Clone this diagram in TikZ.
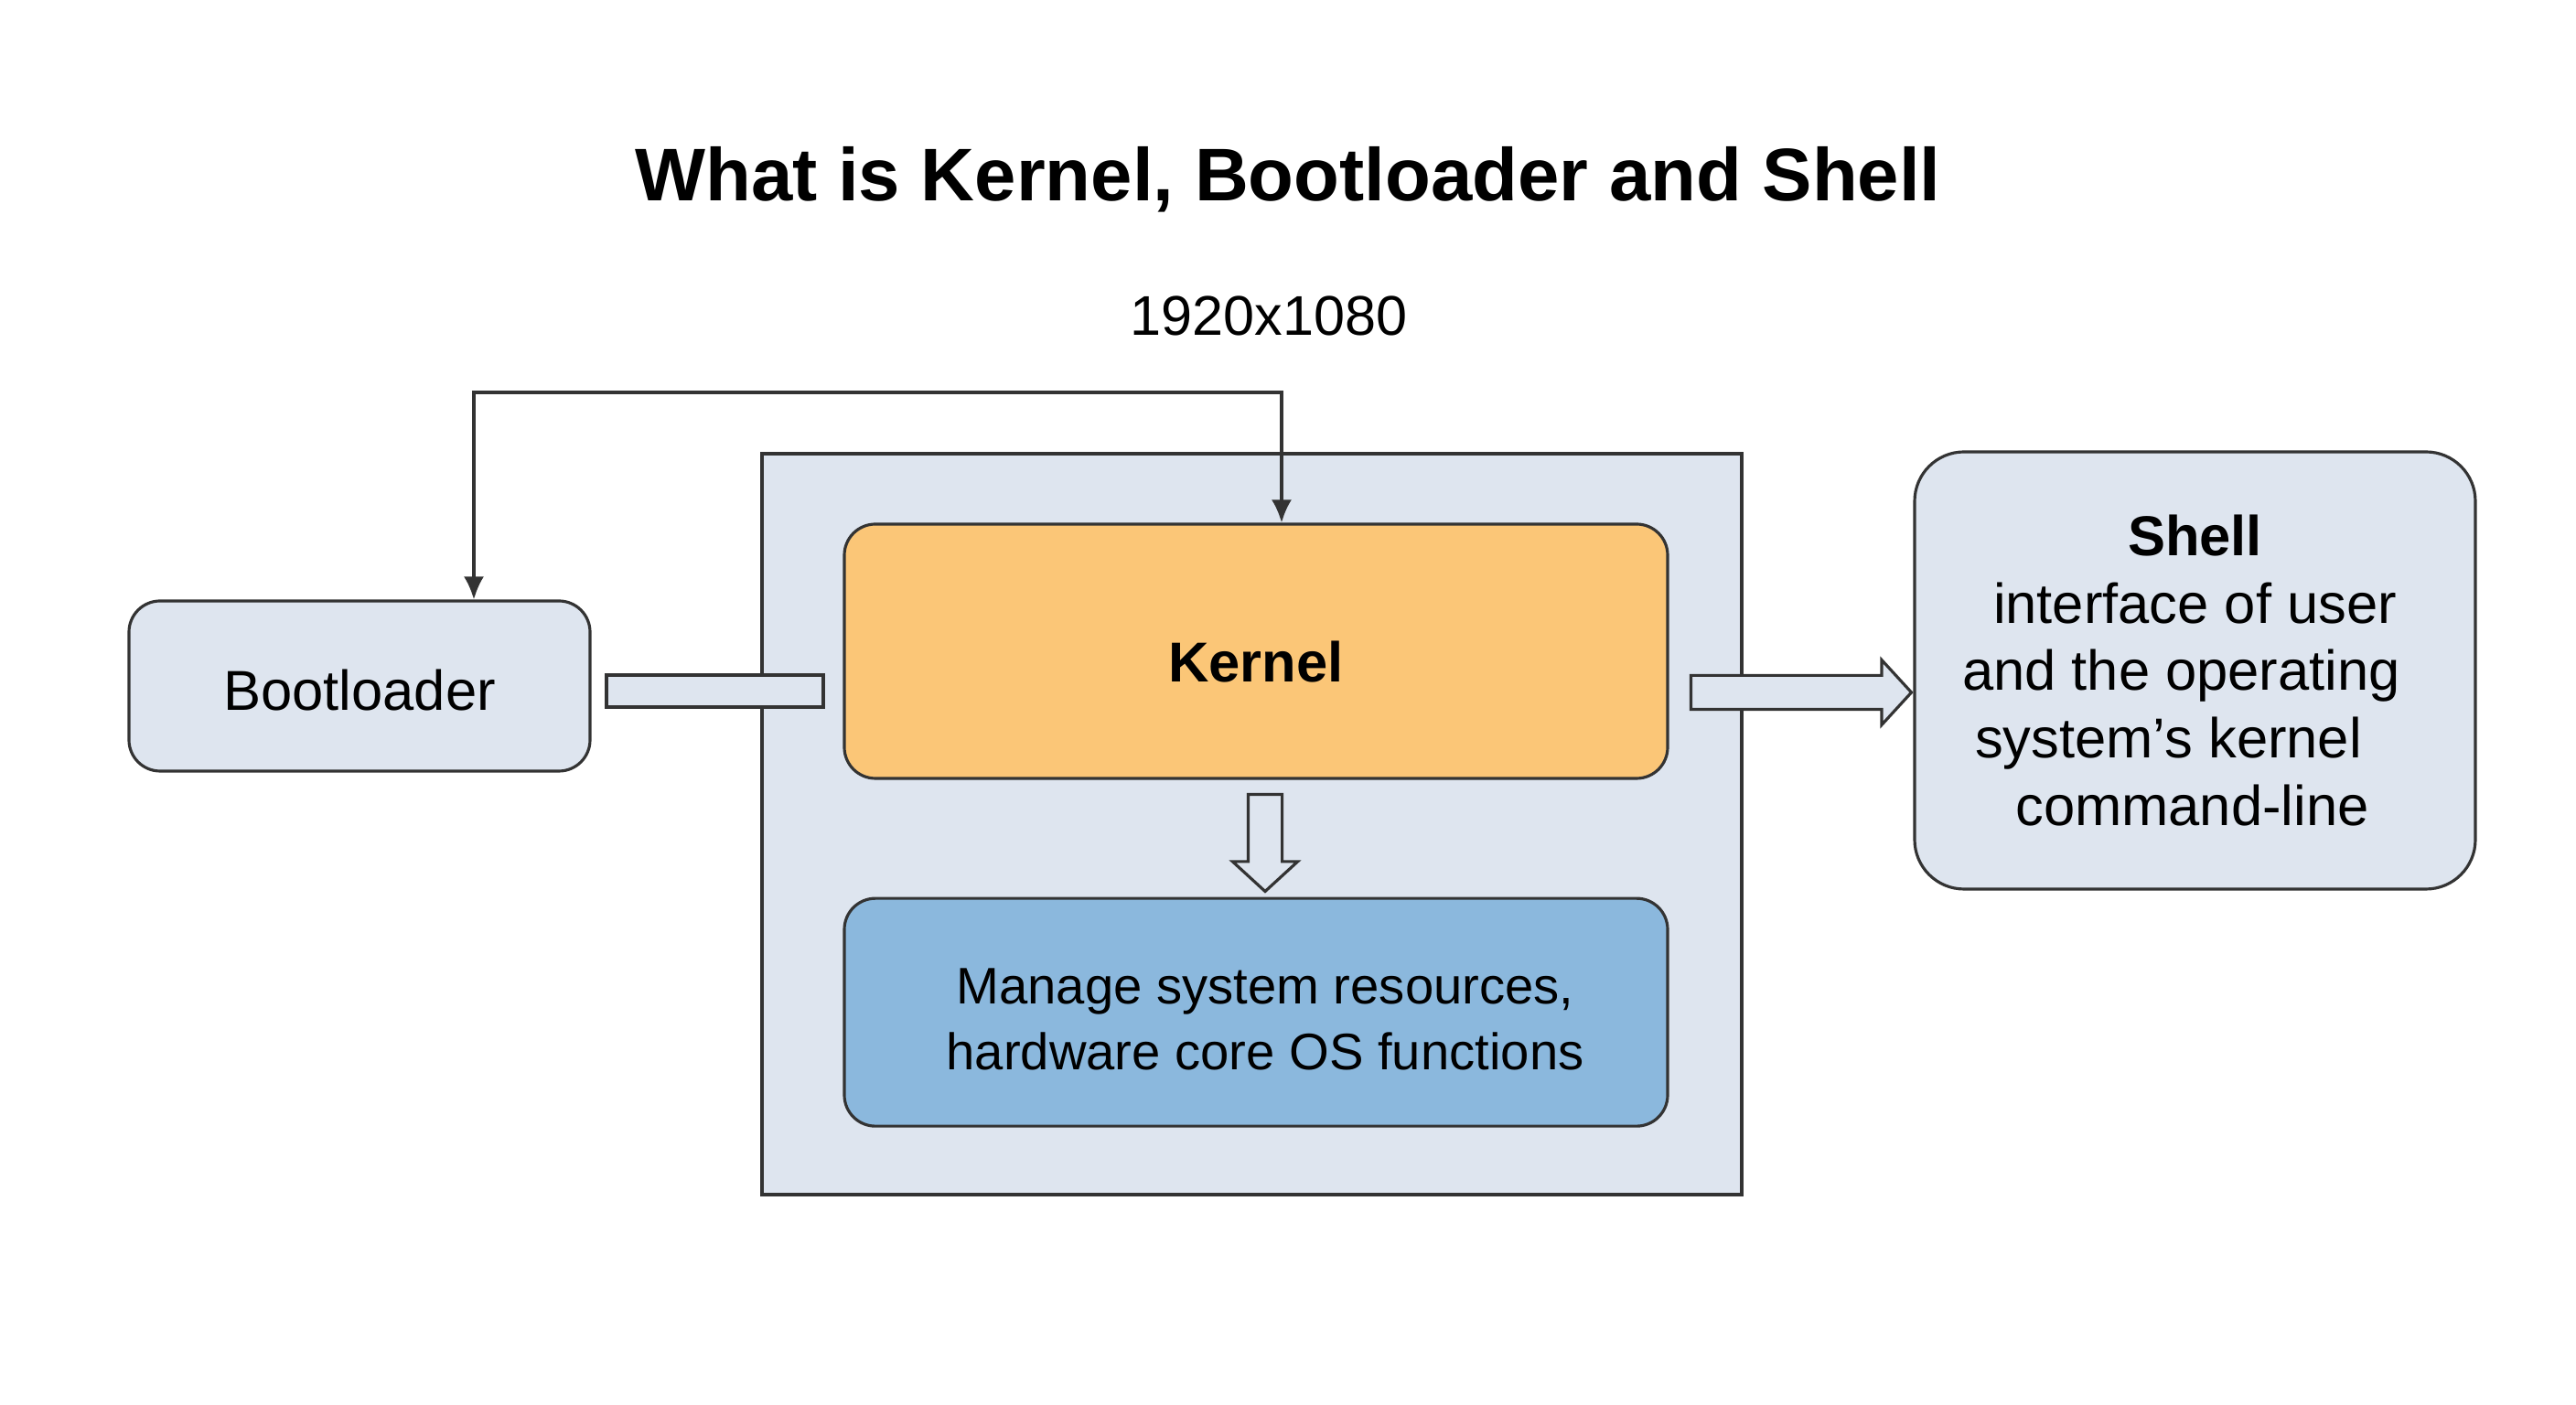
\documentclass[tikz,border=0pt]{standalone}
\usepackage{fontspec}
\setmainfont{Liberation Sans}
\usetikzlibrary{arrows.meta,positioning,shapes.arrows}

\definecolor{panel}{HTML}{DEE5EF}
\definecolor{kernelfill}{HTML}{FBC677}
\definecolor{taskfill}{HTML}{8BB8DD}
\definecolor{edge}{HTML}{333333}

\begin{document}
\begin{tikzpicture}[node distance=1.28cm,
    >={Latex[length=2.5mm,width=2.2mm]},
    every node/.append style={align=center},
    box/.style={draw=edge, line width=0.9pt, fill=panel, rounded corners=3.4mm,
      font=\fontsize{17.5}{21}\selectfont},
    bigarrow/.style={single arrow, draw=edge, line width=0.9pt, fill=panel,
      minimum width=6.8mm, single arrow head extend=1.7mm, single arrow tip angle=95}]
   \useasboundingbox[fill=white] (0,0) rectangle (28.16,15.36);

   \node (title) at (14.08,13.40) {\fontsize{23.2}{28}\selectfont\bfseries What is Kernel, Bootloader and Shell};
   \node (res) at (13.87,11.91) {\fontsize{17.4}{21}\selectfont 1920x1080};

   \node [draw=edge, line width=0.9pt, fill=panel, minimum width=10.71cm, minimum height=8.1cm] (os) at (13.685,6.35) {};
   \node [box, fill=kernelfill, minimum width=9cm, minimum height=2.78cm, text height=19pt] (kernel) at (13.73,8.24) {\bfseries Kernel};
   \node [box, fill=taskfill, minimum width=9cm, minimum height=2.49cm, below=of kernel,
     font=\fontsize{16}{20.4}\selectfont] (tasks)
     {\hspace*{0.2cm}\rule{0pt}{15.5pt}Manage system resources,\\\hspace*{0.2cm}hardware core OS functions};
   \node [box, minimum width=5.04cm, minimum height=1.86cm, text height=15pt] (boot) at (3.93,7.86) {Bootloader};
   \node [box, rounded corners=5.4mm, minimum width=6.13cm, minimum height=4.78cm] (shell) at (23.995,8.03)
     {\textbf{Shell}\\interface of user\\\hspace*{-0.3cm}and the operating\\\hspace*{-0.58cm}system's kernel\\\hspace*{-0.06cm}command-line};

   % links
   \node [draw=edge, line width=0.9pt, fill=panel, inner sep=0pt, minimum width=2.37cm, minimum height=3.5mm] (link) at (7.815,7.805) {};
   \node [bigarrow, inner xsep=0pt, inner ysep=1.7mm, minimum height=2.41cm] (toshell) at (19.605,7.79) {};
   \node [bigarrow, inner xsep=1.7mm, inner ysep=0pt, shape border rotate=270, minimum height=1.06cm] (down) at (13.83,6.23) {};

   \coordinate (bendL) at (5.18,11.07);
   \coordinate (bendR) at (14.01,11.07);
   \draw [<->, draw=edge, line width=0.9pt] (bendL |- boot.north) -- (bendL) -- (bendR) -- (bendR |- kernel.north);
\end{tikzpicture}
\end{document}
